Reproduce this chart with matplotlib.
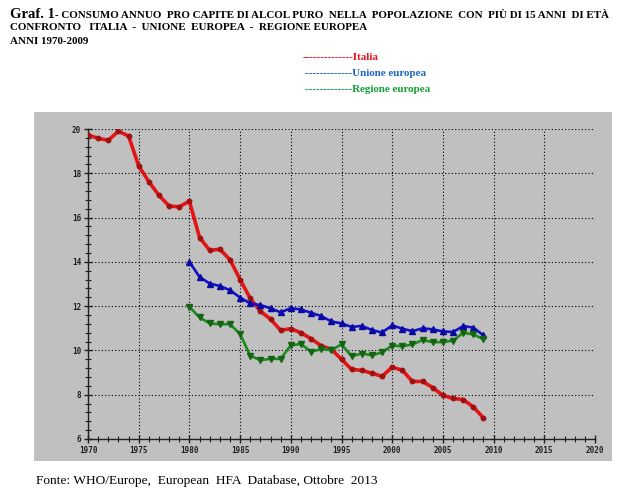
import matplotlib
matplotlib.use("Agg")
import matplotlib.pyplot as plt
from matplotlib.ticker import MultipleLocator

years_it = list(range(1970, 2010))
italia = [19.73, 19.58, 19.49, 19.90, 19.68, 18.33, 17.62, 17.00, 16.52, 16.49,
          16.74, 15.10, 14.52, 14.57, 14.10, 13.20, 12.35, 11.77, 11.41, 10.91,
          10.98, 10.80, 10.53, 10.21, 10.05, 9.60, 9.14, 9.10, 8.97, 8.83,
          9.25, 9.10, 8.60, 8.60, 8.32, 7.97, 7.83, 7.78, 7.45, 6.95]
years_eu = list(range(1980, 2010))
ue = [14.00, 13.32, 13.02, 12.91, 12.72, 12.39, 12.12, 12.05, 11.90, 11.72,
      11.91, 11.85, 11.70, 11.55, 11.31, 11.22, 11.06, 11.11, 10.92, 10.81,
      11.13, 10.98, 10.87, 11.00, 10.95, 10.86, 10.83, 11.10, 11.03, 10.68]
regione = [11.97, 11.49, 11.22, 11.18, 11.19, 10.74, 9.76, 9.56, 9.62, 9.62,
           10.23, 10.29, 9.94, 10.06, 10.02, 10.27, 9.74, 9.86, 9.78, 9.91,
           10.22, 10.19, 10.27, 10.47, 10.37, 10.38, 10.44, 10.80, 10.72, 10.51]
x_ticks = list(range(1970, 2021, 5))
y_ticks = [6, 8, 10, 12, 14, 16, 18, 20]

W, H = 622, 492
fig = plt.figure(figsize=(W / 100, H / 100), dpi=100)
fig.patch.set_facecolor("white")

def fx(x):
    return x / W

def fy(y):
    return 1 - y / H

# gray panel
bg = fig.add_axes([fx(34), fy(461), (612 - 34) / W, (461 - 112) / H])
bg.set_facecolor("#c0c0c0")
bg.set_xticks([])
bg.set_yticks([])
for s in bg.spines.values():
    s.set_visible(False)

ax = fig.add_axes([fx(88), fy(439), (595 - 88) / W, (439 - 129) / H])
ax.set_facecolor("none")
ax.set_xlim(1970, 2020)
ax.set_ylim(6, 20)
ax.set_xticks(x_ticks)
ax.set_yticks(y_ticks)
ax.xaxis.set_minor_locator(MultipleLocator(1))
ax.yaxis.set_minor_locator(MultipleLocator(0.4))
for s in ["top", "right"]:
    ax.spines[s].set_visible(False)
for s in ["left", "bottom"]:
    ax.spines[s].set_color("#202020")
    ax.spines[s].set_linewidth(1.0)
ax.tick_params(which="major", direction="inout", length=6, width=1, color="#202020",
               labelsize=5.5, pad=2)
ax.tick_params(which="minor", direction="inout", length=4, width=0.8, color="#202020")
for lab in ax.get_xticklabels() + ax.get_yticklabels():
    lab.set_fontfamily("DejaVu Sans Mono")
    lab.set_fontweight("bold")
    lab.set_color("#202020")
ax.grid(True, which="major", color="black", linestyle=(0, (1, 2)), linewidth=0.8)

ax.plot(years_it, italia, color="#e41414", lw=2.6, marker="o", ms=3.2,
        mfc="#a01010", mec="#a01010", zorder=3)
ax.plot(years_eu, ue, color="#1010c8", lw=1.9, marker="^", ms=5,
        mfc="#0a0aa0", mec="#0a0aa0", zorder=3)
ax.plot(years_eu, regione, color="#1a8a1a", lw=1.9, marker="v", ms=5,
        mfc="#146414", mec="#146414", zorder=3)

serif = "Liberation Serif"
fs = 7.9
fig.text(fx(10), fy(17.5), "Graf. 1", fontfamily=serif, fontweight="bold",
         fontsize=10.5, va="baseline", ha="left")
fig.text(fx(55), fy(17.5),
         "- CONSUMO ANNUO  PRO CAPITE DI ALCOL PURO  NELLA  POPOLAZIONE  CON  PIÙ DI 15 ANNI  DI ETÀ",
         fontfamily=serif, fontweight="bold", fontsize=fs, va="baseline", ha="left")
fig.text(fx(10), fy(30.5), "CONFRONTO   ITALIA  -  UNIONE  EUROPEA  -  REGIONE EUROPEA",
         fontfamily=serif, fontweight="bold", fontsize=fs, va="baseline", ha="left")
fig.text(fx(10), fy(43.5), "ANNI 1970-2009",
         fontfamily=serif, fontweight="bold", fontsize=fs, va="baseline", ha="left")

fig.text(fx(303), fy(60), "--------------Italia", color="#e8141e", fontfamily=serif,
         fontweight="bold", fontsize=fs, va="baseline", ha="left")
fig.text(fx(305), fy(76), "-------------Unione europea", color="#1e64c8", fontfamily=serif,
         fontweight="bold", fontsize=fs, va="baseline", ha="left")
fig.text(fx(305), fy(92.5), "-------------Regione europea", color="#14a032", fontfamily=serif,
         fontweight="bold", fontsize=fs, va="baseline", ha="left")

fig.text(fx(36), fy(484), "Fonte: WHO/Europe,  European  HFA  Database, Ottobre  2013",
         fontfamily=serif, fontsize=9.6, va="baseline", ha="left")

fig.savefig("out.png", dpi=100)
